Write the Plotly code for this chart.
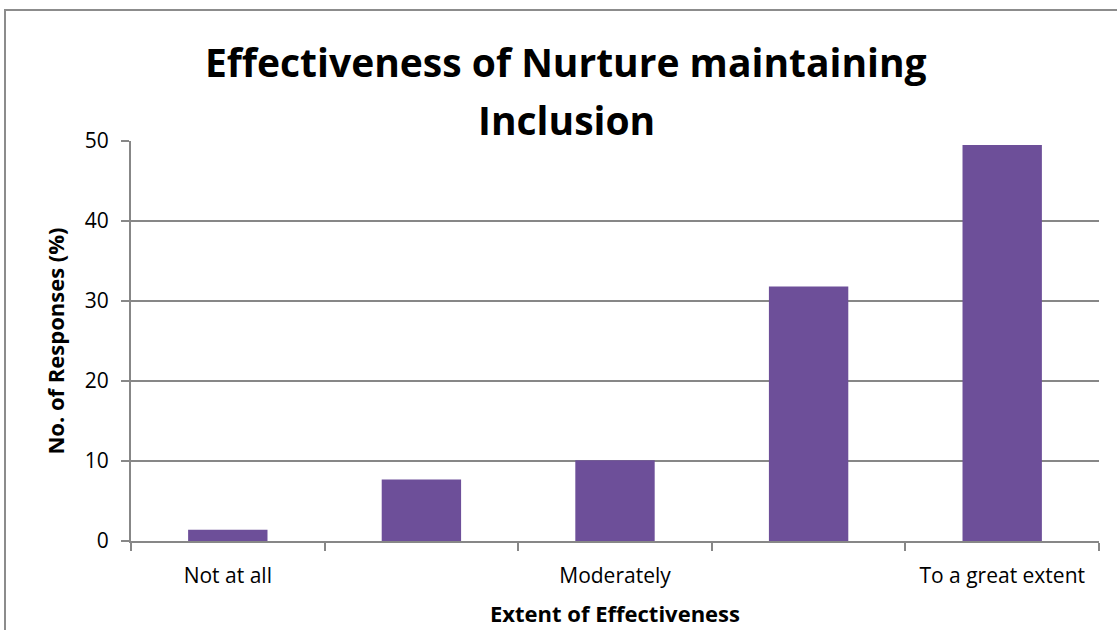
import plotly.graph_objects as go

categories = ["Not at all", "Slightly", "Moderately", "Largely", "To a great extent"]
tick_labels = ["Not at all", "", "Moderately", "", "To a great extent"]
values = [1.4, 7.7, 10.1, 31.8, 49.5]
title_lines = ["Effectiveness of Nurture maintaining", "Inclusion"]

W, H = 1117, 630
L, R, T, B = 131, 18, 141, 89
pw, ph = W - L - R, H - T - B


def px_x(x):
    return (x - L) / pw


def px_y(y):
    return 1 - (y - T) / ph


fig = go.Figure()
fig.add_trace(go.Bar(
    x=categories, y=values,
    marker=dict(color="#6D4F99", line=dict(width=0)),
    width=0.41,
))

grid = "#878787"
font_main = "'Open Sans', sans-serif"
fig.update_layout(
    width=W, height=H,
    margin=dict(l=L, r=R, t=T, b=B, autoexpand=False),
    paper_bgcolor="white", plot_bgcolor="white",
    font=dict(family=font_main, color="#000000"),
    showlegend=False,
    xaxis=dict(
        tickmode="array", tickvals=categories, ticktext=tick_labels,
        showgrid=False, showline=True, linecolor=grid, linewidth=2,
        ticks="outside", ticklen=8, tickcolor=grid, tickwidth=2,
        tickson="boundaries", ticklabelstandoff=15, automargin=False,
        tickfont=dict(size=21),
        title=dict(text="<b>Extent of Effectiveness</b>", font=dict(size=22), standoff=18),
    ),
    yaxis=dict(
        range=[0, 50], dtick=10, showgrid=True, gridcolor=grid, gridwidth=2,
        showline=True, linecolor=grid, linewidth=2,
        ticks="outside", ticklen=8, tickcolor=grid, tickwidth=2,
        ticklabelstandoff=8, automargin=False,
        tickfont=dict(size=21), zeroline=False,
        title=dict(text="<b>No. of Responses (%)</b>", font=dict(size=22), standoff=14),
    ),
    shapes=[
        dict(type="rect", xref="paper", yref="paper",
             x0=px_x(5), x1=px_x(W + 20),
             y0=px_y(H + 20), y1=px_y(10),
             line=dict(color="#8C8C8C", width=2), fillcolor="rgba(0,0,0,0)",
             layer="below"),
    ],
    annotations=[
        dict(text="<b>%s</b>" % title_lines[0], xref="paper", yref="paper",
             x=px_x(566), y=px_y(61), xanchor="center", yanchor="middle",
             showarrow=False, font=dict(size=39, color="#000000")),
        dict(text="<b>%s</b>" % title_lines[1], xref="paper", yref="paper",
             x=px_x(566), y=px_y(119), xanchor="center", yanchor="middle",
             showarrow=False, font=dict(size=39, color="#000000")),
    ],
)

fig.write_html("out.html")
